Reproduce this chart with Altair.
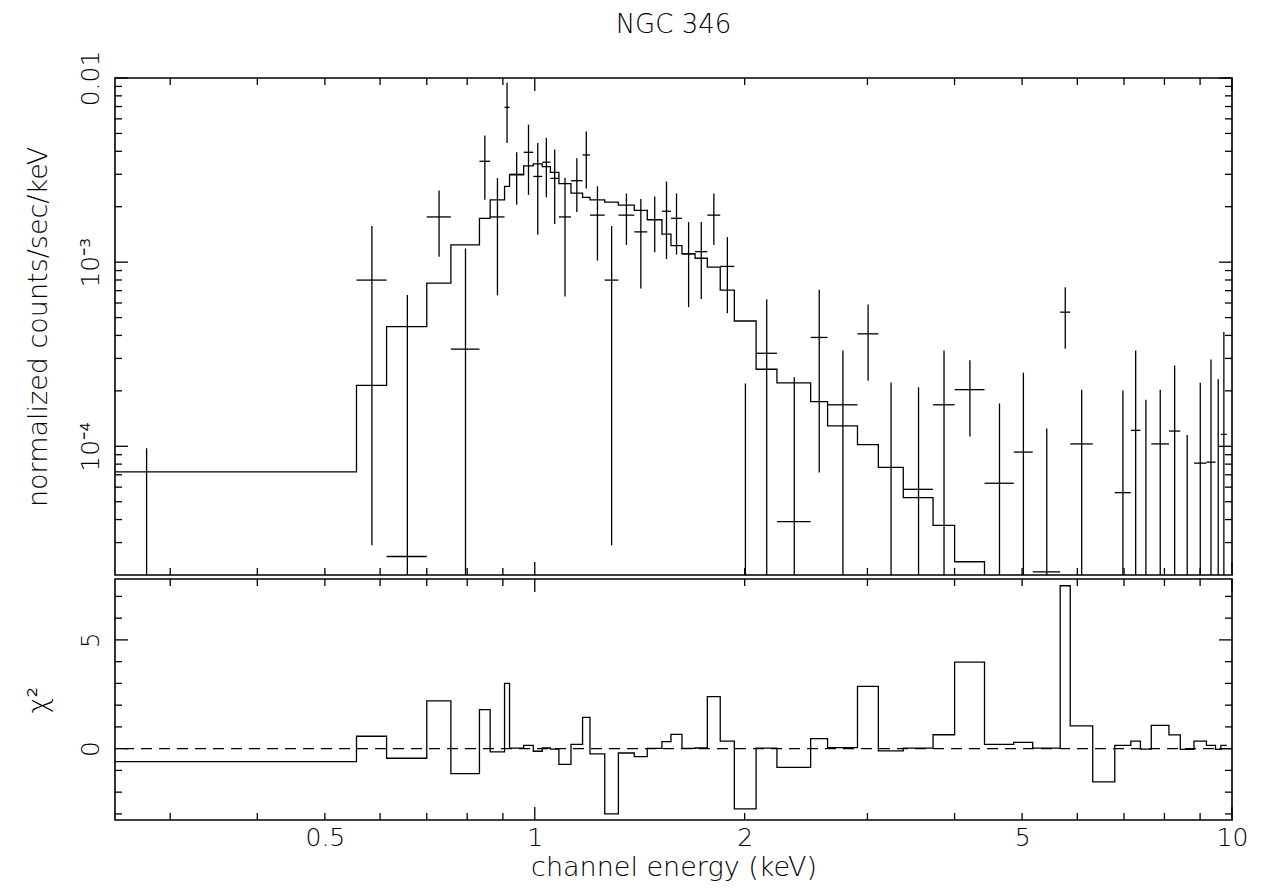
import altair as alt
import pandas as pd

# ---------------- data ----------------
# channel bin edges (keV); the first channel starts at 0 keV
e_lo = [0.0, 0.555, 0.613, 0.700, 0.758, 0.833, 0.863, 0.905, 0.920, 0.964,
        0.995, 1.025, 1.053, 1.083, 1.127, 1.171, 1.200, 1.260, 1.318, 1.389,
        1.450, 1.522, 1.568, 1.626, 1.698, 1.768, 1.845, 1.933, 2.077, 2.225,
        2.487, 2.630, 2.903, 3.110, 3.377, 3.726, 4.001, 4.416, 4.864, 5.178,
        5.670, 5.861, 6.313, 6.790, 7.160, 7.390, 7.660, 8.120, 8.430, 8.820,
        9.190, 9.470, 9.640]
e_last = 9.830

# normalized counts/sec/keV
rate = [-1.0e-5, 7.99e-4, 2.52e-5, 1.76e-3, 3.37e-4, 3.53e-3, 1.76e-3, 6.93e-3, 3.00e-3, 3.95e-3,
        2.92e-3, 3.49e-3, 2.85e-3, 1.76e-3, 2.77e-3, 3.82e-3, 1.80e-3, 7.99e-4, 1.80e-3, 1.46e-3,
        1.70e-3, 1.89e-3, 1.73e-3, 1.11e-3, 1.14e-3, 1.80e-3, 9.48e-4, -1.74e-4, 3.20e-4, 3.90e-5,
        3.90e-4, 1.68e-4, 4.08e-4, -2.0e-5, 5.84e-5, 1.68e-4, 2.03e-4, 6.30e-5, 9.30e-5, 2.08e-5,
        5.35e-4, 1.03e-4, -1.4e-4, 5.60e-5, 1.22e-4, -3.0e-5, 1.03e-4, 1.21e-4, -2.0e-5, 8.10e-5,
        8.20e-5, -2.0e-5, 1.16e-4]
# 1-sigma errors
sigma = [1.075e-4, 7.7e-4, 6.37e-4, 6.9e-4, 8.5e-4, 1.35e-3, 1.1e-3, 2.5e-3, 0.95e-3, 1.63e-3,
         1.51e-3, 1.24e-3, 1.24e-3, 1.11e-3, 0.90e-3, 1.31e-3, 0.78e-3, 7.7e-4, 0.56e-3, 0.74e-3,
         0.57e-3, 0.85e-3, 0.63e-3, 0.54e-3, 0.51e-3, 0.56e-3, 0.42e-3, 3.93e-4, 3.08e-4, 1.98e-4,
         3.18e-4, 1.63e-4, 1.81e-4, 2.42e-4, 1.51e-4, 1.63e-4, 0.90e-4, 1.08e-4, 1.58e-4, 1.04e-4,
         1.96e-4, 1.00e-4, 1.1e-4, 1.45e-4, 2.09e-4, 2.09e-4, 1.00e-4, 1.54e-4, 1.35e-4, 1.40e-4,
         2.14e-4, 2.51e-4, 3.02e-4]
# folded model
model = [7.26e-5, 2.14e-4, 4.46e-4, 7.69e-4, 1.24e-3, 1.73e-3, 2.18e-3, 2.58e-3, 2.98e-3, 3.33e-3,
         3.42e-3, 3.30e-3, 3.07e-3, 2.67e-3, 2.37e-3, 2.25e-3, 2.18e-3, 2.12e-3, 2.04e-3, 1.91e-3,
         1.70e-3, 1.42e-3, 1.23e-3, 1.11e-3, 1.05e-3, 9.4e-4, 7.05e-4, 4.79e-4, 2.62e-4, 2.21e-4,
         1.75e-4, 1.29e-4, 1.02e-4, 7.69e-5, 5.26e-5, 3.72e-5, 2.36e-5, 1.6e-5, 1.35e-5, 1.15e-5,
         1.0e-5, 9.0e-6, 8.0e-6, 7.0e-6, 6.3e-6, 5.8e-6, 5.2e-6, 4.7e-6, 4.3e-6, 3.9e-6,
         3.6e-6, 3.3e-6, 3.1e-6]
# signed chi^2 contributions
chi = [-0.60, 0.57, -0.44, 2.20, -1.15, 1.79, -0.15, 3.00, 0.02, 0.15,
       -0.12, 0.03, -0.02, -0.72, 0.20, 1.44, -0.24, -3.00, -0.20, -0.37,
       0.01, 0.32, 0.66, 0.01, 0.03, 2.39, 0.35, -2.77, 0.02, -0.86,
       0.46, 0.05, 2.86, -0.10, 0.02, 0.64, 3.98, 0.20, 0.29, 0.02,
       7.49, 1.05, -1.53, 0.15, 0.35, -0.02, 1.07, 0.63, -0.03, 0.35,
       0.15, -0.03, 0.15]

x_tick_labels = [0.5, 1, 2, 5, 10]
x_major = [1, 10]
x_minor = [0.3, 0.4, 0.5, 0.6, 0.7, 0.8, 0.9, 2, 3, 4, 5, 6, 7, 8, 9]
y1_major = [1e-4, 1e-3, 1e-2]
y1_minor = [3e-5, 4e-5, 5e-5, 6e-5, 7e-5, 8e-5, 9e-5,
            2e-4, 3e-4, 4e-4, 5e-4, 6e-4, 7e-4, 8e-4, 9e-4,
            2e-3, 3e-3, 4e-3, 5e-3, 6e-3, 7e-3, 8e-3, 9e-3]
y2_major = [0, 5]
y2_minor = [-3, -2, -1, 1, 2, 3, 4, 6, 7]

TITLE = "NGC 346"
# ---------------------------------------------------------------

W, H1, H2 = 1117, 497, 241
X_MIN, X_MAX = 0.25, 10.0
INK = "#000000"
FONT = "DejaVu Sans"
LW = 1.3
MAJ, MIN = 13, 7
LFS, TFS = 25, 27

e_hi = e_lo[1:] + [e_last]
df = pd.DataFrame({"lo": e_lo, "hi": e_hi, "rate": rate, "sigma": sigma,
                   "model": model, "chi": chi})
df["c"] = (df["lo"] + df["hi"]) / 2
df["lo_p"] = df["lo"].clip(lower=X_MIN)
df["ylo"] = (df["rate"] - df["sigma"]).clip(lower=1e-8)
df["yhi"] = df["rate"] + df["sigma"]

steps = pd.DataFrame({"x": list(df["lo_p"]) + [e_hi[-1]],
                      "model": model + [model[-1]],
                      "chi": chi + [chi[-1]]})

xscale = alt.Scale(type="log", domain=[X_MIN, X_MAX], nice=False)
y1scale = alt.Scale(type="log", domain=[2e-5, 1e-2], nice=False)
y2scale = alt.Scale(domain=[-3.28, 7.8], nice=False, zero=False)

lab = dict(labelFont=FONT, labelFontSize=LFS, labelFontWeight=200, labelColor=INK,
           titleFont=FONT, titleFontSize=TFS, titleFontWeight=200, titleColor=INK,
           ticks=False, domain=False, grid=False, labelFlush=False, labelOverlap=False)

yaxis_common = dict(labelAngle=270, labelAlign="center", labelBaseline="bottom",
                    labelPadding=12, titlePadding=23, minExtent=40, maxExtent=40)

y1axis = alt.Axis(values=y1_major,
                  labelExpr="datum.value > 0.005 ? '0.01' : (datum.value > 0.0005 ? '10⁻³' : '10⁻⁴')",
                  title="normalized counts/sec/keV", **yaxis_common, **lab)
y2axis = alt.Axis(values=y2_major, format="d", title="χ²", **yaxis_common, **lab)
xaxis = alt.Axis(values=x_tick_labels, format="~g", title="channel energy (keV)",
                 labelPadding=5, titlePadding=4, **lab)


def x_ticks(vals, L, H, axis):
    base = alt.Chart(pd.DataFrame({"v": vals}))
    enc_x = alt.X("v:Q", scale=xscale, axis=axis)
    return [base.mark_rule(color=INK, strokeWidth=LW).encode(x=enc_x, y=alt.value(H), y2=alt.value(H - L)),
            base.mark_rule(color=INK, strokeWidth=LW).encode(x=enc_x, y=alt.value(0), y2=alt.value(L))]


def y_ticks(vals, L, scale, axis):
    base = alt.Chart(pd.DataFrame({"v": vals}))
    enc_y = alt.Y("v:Q", scale=scale, axis=axis)
    return [base.mark_rule(color=INK, strokeWidth=LW).encode(y=enc_y, x=alt.value(0), x2=alt.value(L)),
            base.mark_rule(color=INK, strokeWidth=LW).encode(y=enc_y, x=alt.value(W), x2=alt.value(W - L))]


# ---------------- top panel ----------------
vbars = alt.Chart(df[df["yhi"] > 0]).mark_rule(color=INK, strokeWidth=LW, clip=True).encode(
    x=alt.X("c:Q", scale=xscale, axis=None),
    y=alt.Y("ylo:Q", scale=y1scale, axis=y1axis),
    y2="yhi:Q")
hbars = alt.Chart(df[df["rate"] > 0]).mark_rule(color=INK, strokeWidth=LW, clip=True).encode(
    x=alt.X("lo_p:Q", scale=xscale, axis=None),
    x2="hi:Q",
    y=alt.Y("rate:Q", scale=y1scale, axis=y1axis))
mline = alt.Chart(steps).mark_line(color=INK, strokeWidth=LW, interpolate="step-after", clip=True).encode(
    x=alt.X("x:Q", scale=xscale, axis=None),
    y=alt.Y("model:Q", scale=y1scale, axis=y1axis))
title_txt = alt.Chart(pd.DataFrame({"t": [TITLE]})).mark_text(
    font=FONT, fontSize=26, fontWeight=200, color=INK, align="center", baseline="middle").encode(
    text="t:N", x=alt.value(W / 2), y=alt.value(-53))

top_layers = [vbars, hbars, mline] \
    + x_ticks(x_major, MAJ, H1, None) + x_ticks(x_minor, MIN, H1, None) \
    + y_ticks(y1_major, MAJ, y1scale, y1axis) + y_ticks(y1_minor, MIN, y1scale, y1axis) + [title_txt]
top = alt.layer(*top_layers).properties(width=W, height=H1)

# ---------------- bottom panel ----------------
cline = alt.Chart(steps).mark_line(color=INK, strokeWidth=LW, interpolate="step-after", clip=True).encode(
    x=alt.X("x:Q", scale=xscale, axis=xaxis),
    y=alt.Y("chi:Q", scale=y2scale, axis=y2axis))
zero = alt.Chart(pd.DataFrame({"z": [0]})).mark_rule(color=INK, strokeWidth=1.1, strokeDash=[11, 7]).encode(
    y=alt.Y("z:Q", scale=y2scale, axis=y2axis))

bot_layers = [zero, cline] \
    + x_ticks(x_major, MAJ, H2, xaxis) + x_ticks(x_minor, MIN, H2, xaxis) \
    + y_ticks(y2_major, MAJ, y2scale, y2axis) + y_ticks(y2_minor, MIN, y2scale, y2axis)
bottom = alt.layer(*bot_layers).properties(width=W, height=H2)

chart = alt.vconcat(top, bottom, spacing=0).properties(
    padding={"left": 15, "top": 3, "right": 10, "bottom": 6}
).configure(font=FONT).configure_view(stroke=INK, strokeWidth=1.6)

chart.save("out.html", embed_options={"renderer": "svg", "actions": False})
